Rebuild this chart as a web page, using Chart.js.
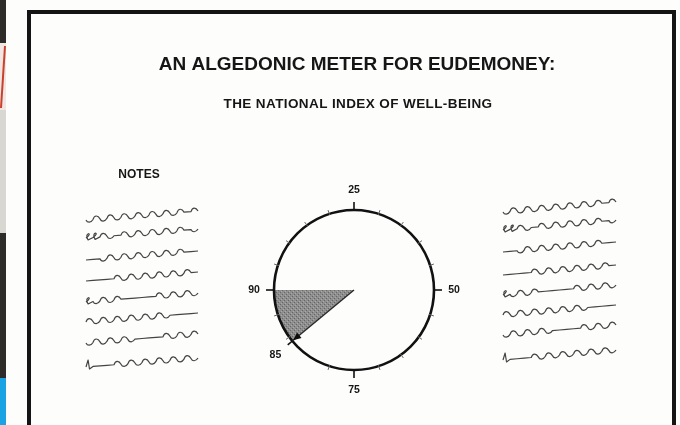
<!DOCTYPE html>
<html>
<head>
<meta charset="utf-8">
<title>Algedonic meter</title>
<script src="https://cdn.jsdelivr.net/npm/chart.js@4.4.1/dist/chart.umd.min.js"></script>
<style>
  html, body { margin: 0; padding: 0; background: #fff; overflow: hidden; }
  #meter { display: block; filter: blur(0.5px); }
</style>
</head>
<body>
<canvas id="meter" width="680" height="425"></canvas>
<script>
const titleText = 'AN ALGEDONIC METER FOR EUDEMONEY:';
const subtitleText = 'THE NATIONAL INDEX OF WELL-BEING';
const notesText = 'NOTES';

// dial scale, counted clockwise from the left mark (25 = top, 50 = right ...)
const majorValues = [25, 50, 75, 100];
const majorLabels = ['25', '50', '75', '90'];
const minorValues = [5, 10, 15, 20, 30, 35, 40, 45, 55, 60, 65, 70, 80, 90, 95];

// the face of the meter: clear part, then the shaded wedge back up to the left mark
const sliceNames = ['clear', 'shaded'];
const sliceValues = [89, 11];
const needleLabel = '85';

// squiggles standing in for handwriting (n = hump, u = dip, - = flat, l = tall stroke, o = loop)
const noteLines = [
  'ununununununun-n',
  'oonu-nunununun-u',
  '--unununununun--',
  '----nununununun-',
  'ounun-----nununu',
  'nunununununu----',
  'unununu----nunun',
  'l---nunununununu'
];

// grey stipple for the wedge
function stipple() {
  const c = document.createElement('canvas');
  c.width = 4; c.height = 4;
  const g = c.getContext('2d');
  g.fillStyle = '#8e8e8e';
  g.fillRect(0, 0, 4, 4);
  g.fillStyle = '#666';
  g.fillRect(0, 0, 1, 1);
  g.fillRect(2, 2, 1, 1);
  g.fillStyle = '#aaa';
  g.fillRect(3, 1, 1, 1);
  g.fillRect(1, 3, 1, 1);
  return g.createPattern(c, 'repeat');
}

function scribble(ctx, x, y, len, rise, pattern) {
  const step = len / pattern.length;
  const slope = -rise / len;
  let cx = x;
  ctx.beginPath();
  ctx.moveTo(x, y);
  for (const ch of pattern) {
    const y0 = y + (cx - x) * slope;
    const nx = cx + step;
    const y1 = y + (nx - x) * slope;
    if (ch === 'n') {
      ctx.bezierCurveTo(cx + step * 0.2, y0 - 4.5, cx + step * 0.7, y0 - 4.5, nx, y1);
    } else if (ch === 'u') {
      ctx.bezierCurveTo(cx + step * 0.2, y0 + 3, cx + step * 0.7, y0 + 3, nx, y1);
    } else if (ch === 'l') {
      ctx.lineTo(cx + step * 0.3, y0 - 7);
      ctx.lineTo(cx + step * 0.5, y0 + 2);
      ctx.lineTo(nx, y1);
    } else if (ch === 'o') {
      ctx.bezierCurveTo(cx + step * 1.2, y0 - 6, cx - step * 0.4, y0 - 6, cx + step * 0.3, y0 + 2);
      ctx.lineTo(nx, y1);
    } else {
      ctx.lineTo(nx, y1);
    }
    cx = nx;
  }
  ctx.stroke();
}

// angle of a dial value, taken from the pie's own arcs
function dialAngle(chart, value) {
  const arcs = chart.getDatasetMeta(0).data;
  const start = arcs[0].startAngle;
  const end = arcs[arcs.length - 1].endAngle;
  return start + (end - start) * value / 100;
}

const slideBackground = {
  id: 'slideBackground',
  beforeDraw(chart) {
    const ctx = chart.ctx;
    ctx.save();
    ctx.fillStyle = '#fdfdfc';
    ctx.fillRect(0, 0, chart.width, chart.height);

    // bit of the room showing at the left edge of the photo
    ctx.fillStyle = '#2d2c28';
    ctx.fillRect(0, 0, 6, 43);
    ctx.fillRect(0, 233, 6, 145);
    ctx.fillStyle = '#f2e6e2';
    ctx.fillRect(0, 43, 6, 67);
    ctx.strokeStyle = '#c8402e';
    ctx.lineWidth = 2;
    ctx.beginPath();
    ctx.moveTo(5, 46); ctx.lineTo(1, 108);
    ctx.stroke();
    ctx.fillStyle = '#d9d7d2';
    ctx.fillRect(0, 110, 6, 123);
    ctx.fillStyle = '#1aa3e2';
    ctx.fillRect(0, 378, 6, 47);

    // slide frame
    ctx.strokeStyle = '#141414';
    ctx.lineWidth = 4;
    ctx.strokeRect(29, 12, 645, 440);

    ctx.fillStyle = '#161616';
    ctx.textAlign = 'center';
    ctx.textBaseline = 'middle';
    ctx.font = 'bold 19px "Liberation Sans", Arial, sans-serif';
    ctx.fillText(titleText, 357, 65);
    ctx.font = 'bold 13.5px "Liberation Sans", Arial, sans-serif';
    ctx.letterSpacing = '0.4px';
    ctx.fillText(subtitleText, 358, 104);
    ctx.letterSpacing = '0px';
    ctx.font = 'bold 12px "Liberation Sans", Arial, sans-serif';
    ctx.fillText(notesText, 139, 175);

    ctx.strokeStyle = '#444';
    ctx.lineWidth = 1.2;
    ctx.lineJoin = 'round';
    const leftRows = [220, 238, 260, 281, 302, 322, 343, 367];
    const rightRows = [212, 230, 252, 275, 295, 315, 335, 360];
    noteLines.forEach((p, i) => {
      scribble(ctx, 86, leftRows[i], 112, 9, p);
      scribble(ctx, 503, rightRows[i], 113, 10, p);
    });
    ctx.restore();
  }
};

const dialFace = {
  id: 'dialFace',
  afterDatasetsDraw(chart) {
    const ctx = chart.ctx;
    const arc = chart.getDatasetMeta(0).data[0];
    const cx = arc.x, cy = arc.y, r = arc.outerRadius;
    ctx.save();

    ctx.strokeStyle = '#111';
    ctx.lineWidth = 2.6;
    ctx.beginPath();
    ctx.arc(cx, cy, r, 0, Math.PI * 2);
    ctx.stroke();

    ctx.lineWidth = 1;
    ctx.strokeStyle = '#666';
    minorValues.forEach(v => {
      const a = dialAngle(chart, v);
      ctx.beginPath();
      ctx.moveTo(cx + Math.cos(a) * (r - 1), cy + Math.sin(a) * (r - 1));
      ctx.lineTo(cx + Math.cos(a) * (r + 4), cy + Math.sin(a) * (r + 4));
      ctx.stroke();
    });

    ctx.strokeStyle = '#111';
    ctx.lineWidth = 1.6;
    ctx.fillStyle = '#161616';
    ctx.font = 'bold 10.5px "Liberation Sans", Arial, sans-serif';
    ctx.textAlign = 'center';
    ctx.textBaseline = 'middle';
    majorValues.forEach((v, i) => {
      const a = dialAngle(chart, v);
      ctx.beginPath();
      ctx.moveTo(cx + Math.cos(a) * r, cy + Math.sin(a) * r);
      ctx.lineTo(cx + Math.cos(a) * (r + 8), cy + Math.sin(a) * (r + 8));
      ctx.stroke();
      ctx.fillText(majorLabels[i], cx + Math.cos(a) * (r + 20), cy + Math.sin(a) * (r + 20));
    });

    // needle along the leading edge of the shaded wedge
    const shaded = chart.getDatasetMeta(0).data[1];
    const a = shaded.startAngle;
    ctx.strokeStyle = '#2a2a2a';
    ctx.lineWidth = 1.4;
    ctx.beginPath();
    ctx.moveTo(cx, cy);
    ctx.lineTo(cx + Math.cos(a) * r, cy + Math.sin(a) * r);
    ctx.stroke();
    ctx.strokeStyle = '#111';
    ctx.lineWidth = 1.6;
    ctx.beginPath();
    ctx.moveTo(cx + Math.cos(a) * r, cy + Math.sin(a) * r);
    ctx.lineTo(cx + Math.cos(a) * (r + 6), cy + Math.sin(a) * (r + 6));
    ctx.stroke();
    const tipX = cx + Math.cos(a) * (r - 1), tipY = cy + Math.sin(a) * (r - 1);
    const bx = cx + Math.cos(a) * (r - 9), by = cy + Math.sin(a) * (r - 9);
    const px = -Math.sin(a) * 3.5, py = Math.cos(a) * 3.5;
    ctx.fillStyle = '#0d0d0d';
    ctx.beginPath();
    ctx.moveTo(tipX, tipY);
    ctx.lineTo(bx + px, by + py);
    ctx.lineTo(bx - px, by - py);
    ctx.closePath();
    ctx.fill();
    ctx.fillStyle = '#161616';
    ctx.fillText(needleLabel, cx + Math.cos(a) * (r + 22), cy + Math.sin(a) * (r + 22));
    ctx.restore();
  }
};

new Chart(document.getElementById('meter'), {
  type: 'pie',
  data: {
    labels: sliceNames,
    datasets: [{
      data: sliceValues,
      backgroundColor: ['#fdfdfc', stipple()],
      borderWidth: 0
    }]
  },
  options: {
    responsive: false,
    animation: false,
    events: [],
    rotation: -90,
    radius: 80,
    layout: { padding: { left: 254, right: 226, top: 190, bottom: 35 } },
    plugins: {
      legend: { display: false },
      tooltip: { enabled: false }
    }
  },
  plugins: [slideBackground, dialFace]
});
</script>
</body>
</html>
